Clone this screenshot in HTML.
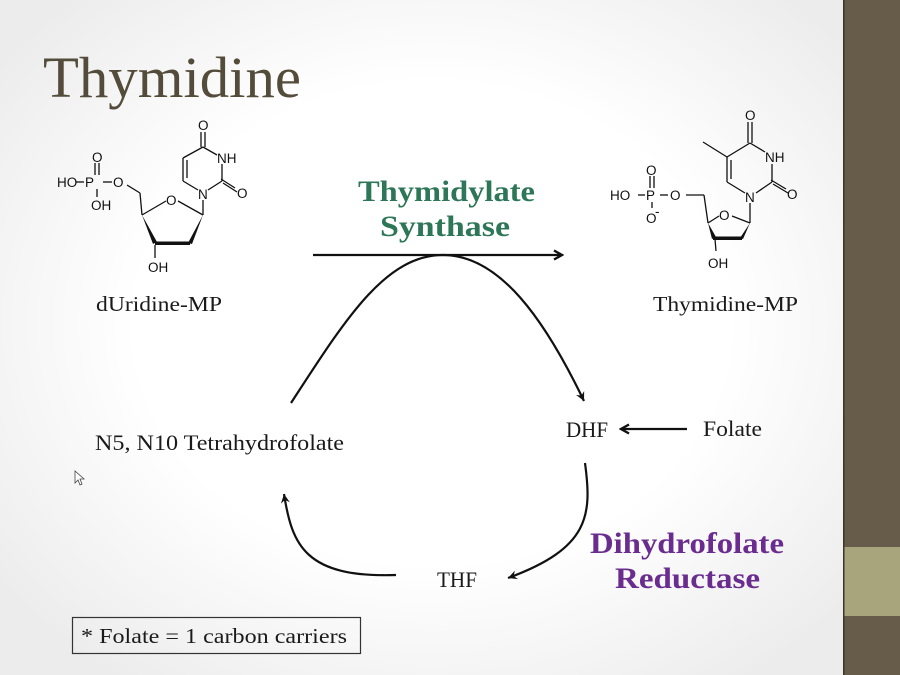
<!DOCTYPE html>
<html><head><meta charset="utf-8"><style>
html,body{margin:0;padding:0;width:900px;height:675px;overflow:hidden}
body{background:radial-gradient(ellipse 60% 65% at 48% 48%,#ffffff 55%,#ececec 100%);}
svg{position:absolute;left:0;top:0}
.serif{font-family:"Liberation Serif",serif}
.chem{font-family:"Liberation Sans",sans-serif;font-size:13.5px;fill:#111}
</style></head><body>
<svg width="900" height="675" viewBox="0 0 900 675" xmlns="http://www.w3.org/2000/svg">
<defs>
<marker id="ah" markerWidth="12" markerHeight="12" refX="10" refY="6" orient="auto" markerUnits="userSpaceOnUse">
<polyline points="2,1.5 10,6 2,10.5" fill="none" stroke="#111" stroke-width="2.4" stroke-linejoin="miter"/>
</marker>
<marker id="ah2" markerWidth="12" markerHeight="12" refX="10" refY="6" orient="auto" markerUnits="userSpaceOnUse">
<path d="M1,1.5 L10,6 L1,10.5 L4,6 Z" fill="#111"/>
</marker>
</defs>

<!-- right bar -->
<rect x="843" y="0" width="1.5" height="675" fill="#3b362c"/>
<rect x="844.5" y="0" width="56" height="675" fill="#675b49"/>
<rect x="844.5" y="547" width="56" height="69" fill="#a8a57c"/>

<!-- title -->
<text class="serif" x="43" y="97" font-size="58" fill="#544c3b" textLength="258" lengthAdjust="spacingAndGlyphs">Thymidine</text>

<!-- left molecule dUMP -->
<g stroke="#111" stroke-width="1.3" fill="none">
  <line x1="76" y1="182" x2="84" y2="182"/>
  <line x1="103" y1="182" x2="112" y2="182"/>
  <line x1="95" y1="163" x2="95" y2="175"/>
  <line x1="99" y1="163" x2="99" y2="175"/>
  <line x1="97" y1="189" x2="97" y2="197"/>
  <line x1="127" y1="185" x2="140" y2="193"/>
  <line x1="140" y1="193" x2="142" y2="215"/>
  <line x1="142" y1="215" x2="166" y2="201"/>
  <line x1="178" y1="201" x2="203" y2="215"/>
  <line x1="203" y1="215" x2="203" y2="200"/>
  <line x1="155" y1="245" x2="155" y2="258"/>
  <line x1="198" y1="190" x2="183" y2="181"/>
  <line x1="183" y1="181" x2="183" y2="158"/>
  <line x1="187" y1="178" x2="187" y2="160"/>
  <line x1="183" y1="158" x2="203" y2="147"/>
  <line x1="203" y1="147" x2="217" y2="155"/>
  <line x1="222" y1="164" x2="222" y2="181"/>
  <line x1="222" y1="181" x2="208" y2="190"/>
  <line x1="201" y1="147" x2="201" y2="132"/>
  <line x1="205" y1="147" x2="205" y2="132"/>
  <line x1="221" y1="179" x2="235" y2="188"/>
  <line x1="223" y1="183" x2="237" y2="192"/>
</g>
<polygon points="142,215 153,244 157,242" fill="#111"/>
<polygon points="155,241.5 190,241.5 190,245 155,245" fill="#111"/>
<polygon points="203,215 188,243 192,244" fill="#111"/>
<text class="chem" x="57" y="187">HO</text>
<text class="chem" x="85" y="187">P</text>
<text class="chem" x="113" y="187">O</text>
<text class="chem" x="92" y="162">O</text>
<text class="chem" x="91" y="210">OH</text>
<text class="chem" x="166" y="205">O</text>
<text class="chem" x="198" y="199">N</text>
<text class="chem" x="217" y="163">NH</text>
<text class="chem" x="198" y="130">O</text>
<text class="chem" x="237" y="198">O</text>
<text class="chem" x="148" y="272">OH</text>

<!-- right molecule dTMP -->
<g stroke="#111" stroke-width="1.3" fill="none">
  <line x1="638" y1="195" x2="645" y2="195"/>
  <line x1="660" y1="195" x2="668" y2="195"/>
  <line x1="650" y1="176" x2="650" y2="188"/>
  <line x1="654" y1="176" x2="654" y2="188"/>
  <line x1="652" y1="202" x2="652" y2="208"/>
  <line x1="686" y1="195" x2="704" y2="195"/>
  <line x1="704" y1="195" x2="708" y2="223"/>
  <line x1="708" y1="223" x2="719" y2="216"/>
  <line x1="732" y1="216" x2="750" y2="223"/>
  <line x1="750" y1="223" x2="750" y2="203"/>
  <line x1="715" y1="239" x2="716" y2="251"/>
  <line x1="745" y1="193" x2="727" y2="182"/>
  <line x1="727" y1="182" x2="727" y2="157"/>
  <line x1="731" y1="179" x2="731" y2="160"/>
  <line x1="727" y1="157" x2="750" y2="143"/>
  <line x1="750" y1="143" x2="765" y2="152"/>
  <line x1="772" y1="164" x2="772" y2="182"/>
  <line x1="772" y1="182" x2="756" y2="193"/>
  <line x1="748" y1="143" x2="748" y2="122"/>
  <line x1="752" y1="143" x2="752" y2="122"/>
  <line x1="771" y1="180" x2="786" y2="189"/>
  <line x1="773" y1="184" x2="788" y2="193"/>
  <line x1="727" y1="157" x2="703" y2="142"/>
</g>
<polygon points="708,223 712,239 716,237" fill="#111"/>
<polygon points="713,236.5 742,236.5 742,240 713,240" fill="#111"/>
<polygon points="750,223 740,238 743,239" fill="#111"/>
<text class="chem" x="610" y="200">HO</text>
<text class="chem" x="646" y="200">P</text>
<text class="chem" x="670" y="200">O</text>
<text class="chem" x="646" y="175">O</text>
<text class="chem" x="646" y="223">O</text>
<text class="chem" x="655" y="216" font-size="9">-</text>
<text class="chem" x="719" y="220">O</text>
<text class="chem" x="745" y="202">N</text>
<text class="chem" x="765" y="162">NH</text>
<text class="chem" x="745" y="120">O</text>
<text class="chem" x="787" y="199">O</text>
<text class="chem" x="708" y="268">OH</text>

<!-- molecule labels -->
<text class="serif" x="96" y="311" font-size="21" fill="#1a1a1a" textLength="126" lengthAdjust="spacingAndGlyphs">dUridine-MP</text>
<text class="serif" x="653" y="311" font-size="21" fill="#1a1a1a" textLength="145" lengthAdjust="spacingAndGlyphs">Thymidine-MP</text>

<!-- enzyme labels -->
<text class="serif" x="358" y="201" font-size="30" font-weight="bold" fill="#2d7657" textLength="177" lengthAdjust="spacingAndGlyphs">Thymidylate</text>
<text class="serif" x="380" y="236" font-size="30" font-weight="bold" fill="#2d7657" textLength="130" lengthAdjust="spacingAndGlyphs">Synthase</text>
<text class="serif" x="590" y="553" font-size="30" font-weight="bold" fill="#6a2d8f" textLength="194" lengthAdjust="spacingAndGlyphs">Dihydrofolate</text>
<text class="serif" x="615" y="588" font-size="30" font-weight="bold" fill="#6a2d8f" textLength="145" lengthAdjust="spacingAndGlyphs">Reductase</text>

<!-- node labels -->
<text class="serif" x="95" y="450" font-size="22" fill="#1a1a1a" textLength="249" lengthAdjust="spacingAndGlyphs">N5, N10 Tetrahydrofolate</text>
<text class="serif" x="566" y="437" font-size="22" fill="#1a1a1a" textLength="42" lengthAdjust="spacingAndGlyphs">DHF</text>
<text class="serif" x="703" y="436" font-size="22" fill="#1a1a1a" textLength="59" lengthAdjust="spacingAndGlyphs">Folate</text>
<text class="serif" x="437" y="587" font-size="22" fill="#1a1a1a" textLength="40" lengthAdjust="spacingAndGlyphs">THF</text>

<!-- arrows -->
<g stroke="#111" stroke-width="2.2" fill="none">
  <line x1="313" y1="255" x2="562" y2="255" marker-end="url(#ah)"/>
  <path d="M291,403 C345,320 385,255 443,255 C500,255 545,320 584,401" marker-end="url(#ah2)"/>
  <line x1="687" y1="429" x2="621" y2="429" marker-end="url(#ah)"/>
  <path d="M585,463 C592,515 590,548 508,578" marker-end="url(#ah2)"/>
  <path d="M396,575 C305,578 292,545 284,494" marker-end="url(#ah2)"/>
</g>

<!-- cursor -->
<path d="M75,471 L75,483 L78,480 L80,485 L82,484 L80,479 L84,479 Z" fill="#fff" stroke="#444" stroke-width="0.8"/>

<!-- footnote box -->
<rect x="72.5" y="617.5" width="288" height="36" fill="none" stroke="#333" stroke-width="1.2"/>
<text class="serif" x="81" y="643" font-size="21" fill="#1a1a1a" textLength="266" lengthAdjust="spacingAndGlyphs">* Folate = 1 carbon carriers</text>
</svg>
</body></html>
